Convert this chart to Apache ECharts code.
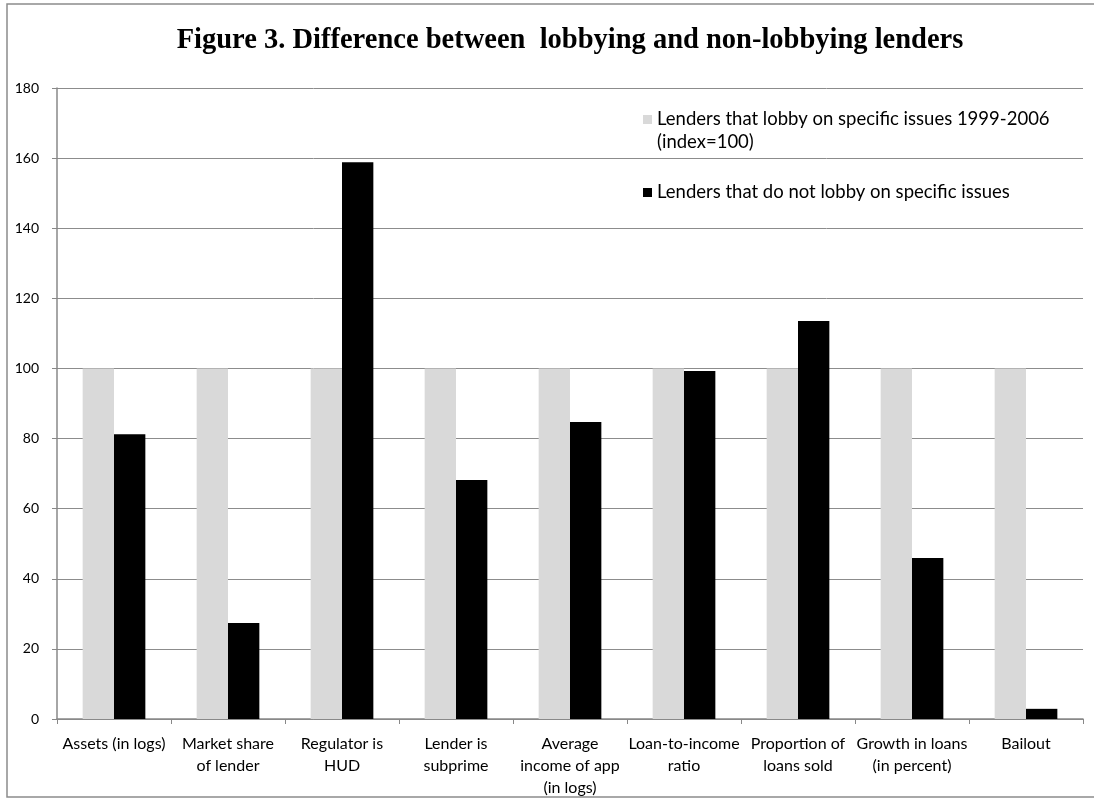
<!DOCTYPE html>
<html>
<head>
<meta charset="utf-8">
<script src="https://cdn.jsdelivr.net/npm/echarts@6/dist/echarts.min.js"></script>
<style>html,body{margin:0;padding:0;background:#fff}#c{width:1094px;height:800px}</style>
</head>
<body>
<div id="c"></div>
<script>
var categories = ['Assets (in logs)', 'Market share\nof lender', 'Regulator is\nHUD', 'Lender is\nsubprime', 'Average\nincome of app\n(in logs)', 'Loan-to-income\nratio', 'Proportion of\nloans sold', 'Growth in loans\n(in percent)', 'Bailout'];
var lobbyValues = [100, 100, 100, 100, 100, 100, 100, 100, 100];
var nonLobbyValues = [81.2, 27.4, 158.8, 68.2, 84.7, 99.3, 113.5, 45.9, 2.9];
var seriesNames = ['Lenders that lobby on specific issues 1999-2006\n(index=100)', 'Lenders that do not lobby on specific issues'];
var titleText = 'Figure 3. Difference between  lobbying and non-lobbying lenders';

var chart = echarts.init(document.getElementById('c'));
chart.setOption({
  animation: false,
  backgroundColor: '#fff',
  title: {
    text: titleText,
    left: 565, top: 21, textAlign: 'center',
    textStyle: {fontFamily: 'Liberation Serif', fontWeight: 'bold', fontSize: 28.5, color: '#000'}
  },
  graphic: [{
    type: 'rect', silent: true, z: -1,
    shape: {x: 7, y: 4, width: 1100, height: 793},
    style: {fill: 'none', stroke: '#8c8c8c', lineWidth: 1.5}
  }],
  legend: {
    orient: 'vertical',
    left: 638, top: 103,
    itemWidth: 9, itemHeight: 32, itemGap: 27,
    symbolKeepAspect: true,
    textStyle: {fontFamily: 'Lato', fontSize: 18.5, color: '#000', lineHeight: 23},
    data: [
      {name: seriesNames[0], icon: 'path://M0,0L9,0L9,9L0,9Z M0,32L0,32'},
      {name: seriesNames[1], icon: 'path://M0,0L9,0L9,9L0,9Z'}
    ]
  },
  grid: {left: 57, right: 11, top: 88, bottom: 81},
  xAxis: {
    type: 'category',
    data: categories,
    axisLine: {lineStyle: {color: '#888', width: 1.5}},
    axisTick: {show: true, length: 5, lineStyle: {color: '#888'}},
    axisLabel: {interval: 0, fontFamily: 'Lato', fontSize: 16, color: '#000', lineHeight: 22, margin: 14}
  },
  yAxis: {
    type: 'value', min: 0, max: 180, interval: 20,
    axisLine: {show: true, lineStyle: {color: '#888', width: 1.5}},
    axisTick: {show: true, length: 5, lineStyle: {color: '#888'}},
    axisLabel: {fontFamily: 'Lato', fontSize: 14, color: '#000', margin: 18},
    splitLine: {lineStyle: {color: '#8c8c8c', width: 1}}
  },
  series: [
    {name: seriesNames[0], type: 'bar', data: lobbyValues, barGap: '0%', barCategoryGap: '45%',
     itemStyle: {color: '#d9d9d9'}},
    {name: seriesNames[1], type: 'bar', data: nonLobbyValues, barGap: '0%', barCategoryGap: '45%',
     itemStyle: {color: '#000'}}
  ]
});
</script>
</body>
</html>
